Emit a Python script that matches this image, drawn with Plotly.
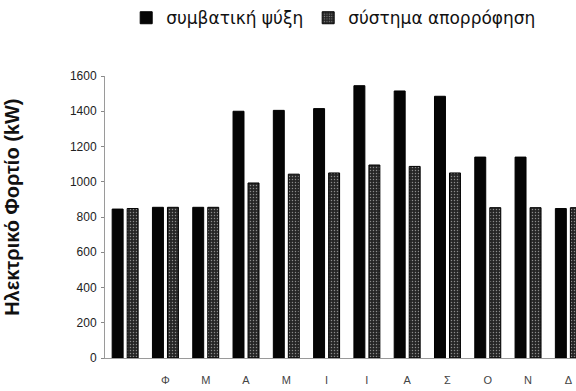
import plotly.graph_objects as go

# Monthly electrical load (kW) for the two cooling configurations
months = ["Ι", "Φ", "Μ", "Α", "Μ ", "Ι ", "Ι  ", "Α ", "Σ", "Ο", "Ν", "Δ"]
month_labels = ["", "Φ", "Μ", "Α", "Μ", "Ι", "Ι", "Α", "Σ", "Ο", "Ν", "Δ"]
conventional = [845, 855, 855, 1400, 1405, 1415, 1545, 1515, 1485, 1140, 1140, 848]
absorption = [848, 855, 855, 993, 1043, 1050, 1095, 1087, 1050, 853, 853, 853]
y_ticks = [0, 200, 400, 600, 800, 1000, 1200, 1400, 1600]

fig = go.Figure()
fig.add_trace(go.Bar(
    x=months, y=conventional, name="συμβατική ψύξη",
    marker=dict(color="#050505", line=dict(color="#000000", width=1)),
))
fig.add_trace(go.Bar(
    x=months, y=absorption, name="σύστημα απορρόφηση",
    marker=dict(
        color="#262626",
        line=dict(color="#000000", width=1),
        pattern=dict(shape=".", fgcolor="#f2f2f2", size=3,
                     solidity=0.18, fillmode="overlay"),
    ),
))

# vertical axis title, placed as rotated text left of the tick labels
fig.add_annotation(
    text="<b>Ηλεκτρικό Φορτίο (kW)</b>", textangle=-90,
    xref="paper", yref="paper", x=-0.198, y=0.535,
    xanchor="center", yanchor="middle", showarrow=False,
    font=dict(size=20, color="#111111", family="Liberation Sans, Arial, sans-serif"),
)

fig.update_layout(
    width=576, height=391,
    margin=dict(l=105, r=0, t=68, b=33),
    paper_bgcolor="white", plot_bgcolor="white",
    barmode="group", bargap=0.255, bargroupgap=0.27,
    font=dict(family="Liberation Sans, Arial, sans-serif", color="#111111"),
    showlegend=True,
    legend=dict(
        orientation="h", x=0.045, xanchor="left", y=1.205, yanchor="middle",
        font=dict(size=17, color="#111111", family="DejaVu Sans, sans-serif"),
        itemwidth=30, tracegroupgap=0, bgcolor="rgba(0,0,0,0)",
    ),
    xaxis=dict(
        range=[-0.5, 11.19],
        tickmode="array", tickvals=months, ticktext=month_labels,
        tickfont=dict(size=11, color="#444444"),
        showline=True, linecolor="#9a9a9a", linewidth=1,
        showgrid=False, ticks="", ticklabelstandoff=12,
    ),
    yaxis=dict(
        range=[0, 1600],
        tickmode="array", tickvals=y_ticks,
        tickfont=dict(size=12, color="#222222"),
        showline=True, linecolor="#9a9a9a", linewidth=1,
        showgrid=False, zeroline=False,
        ticks="outside", ticklen=3, tickcolor="#888888",
        ticklabelstandoff=2,
    ),
)

fig.write_html("out.html")
